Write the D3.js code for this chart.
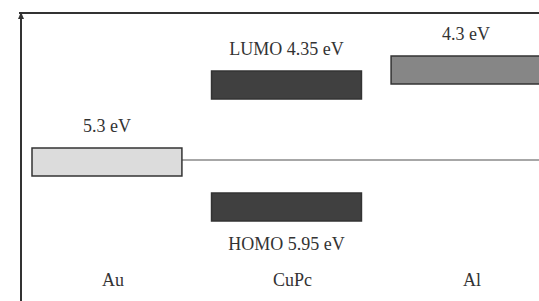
<!DOCTYPE html>
<html>
<head>
<meta charset="utf-8">
<script src="https://cdn.jsdelivr.net/npm/d3@7"></script>
<style>
body { margin: 0; background: #fff; }
text { font-family: "Liberation Serif", "Times New Roman", serif; fill: #333; }
</style>
</head>
<body>
<svg width="539" height="301"></svg>
<script>
// Energy level diagram Au / CuPc / Al

var materials = ["Au", "CuPc", "Al"];
// levels: material, energy (eV), label
var levels = [
	{mat: "Au", e: 5.3, label: "5.3 eV", kind: "metal-low"},
	{mat: "CuPc", e: 4.35, label: "LUMO 4.35 eV", kind: "lumo"},
	{mat: "CuPc", e: 5.95, label: "HOMO 5.95 eV", kind: "homo"},
	{mat: "Al", e: 4.3, label: "4.3 eV", kind: "metal-high"}
];
var fermi_level = 5.3;

function draw(){
	var svg = d3.select("svg");

	var x = d3.scaleBand()
		.domain(materials)
		.range([32, 541])
		.paddingInner(0.165);

	// schematic (non-linear) energy axis, as in the drawing
	var y = d3.scaleLinear()
		.domain([4.3, 4.35, 5.3, 5.95])
		.range([70, 85, 162, 207]);

	var bar_h = 28;
	var fill = {"metal-low": "#dcdcdc", "lumo": "#404040", "homo": "#404040", "metal-high": "#868686"};

	// frame: left energy axis with arrow, top line
	svg.append("line")
		.attr("x1", 19).attr("y1", 13).attr("x2", 539).attr("y2", 13)
		.attr("stroke", "#333").attr("stroke-width", 2);
	svg.append("line")
		.attr("x1", 21).attr("y1", 13).attr("x2", 21).attr("y2", 301)
		.attr("stroke", "#333").attr("stroke-width", 2);
	svg.append("path")
		.attr("d", "M18,19 L21,12 L24,19 Z")
		.attr("fill", "#333");

	// Fermi level line from Au
	svg.append("line")
		.attr("x1", x("Au") + x.bandwidth()).attr("x2", 539)
		.attr("y1", y(fermi_level) - 2).attr("y2", y(fermi_level) - 2)
		.attr("stroke", "#8a8a8a").attr("stroke-width", 1.5);

	svg.append("g").selectAll("rect")
		.data(levels)
		.enter().append("rect")
		.attr("x", d => x(d.mat))
		.attr("y", d => y(d.e) - bar_h / 2)
		.attr("width", x.bandwidth())
		.attr("height", bar_h)
		.attr("fill", d => fill[d.kind])
		.attr("stroke", "#333")
		.attr("stroke-width", 1.5);

	svg.append("g").selectAll("text")
		.data(levels)
		.enter().append("text")
		.attr("x", d => x(d.mat) + x.bandwidth() / 2)
		.attr("y", d => d.kind == "homo" ? y(d.e) + bar_h / 2 + 29 : y(d.e) - bar_h / 2 - 16)
		.attr("text-anchor", "middle")
		.attr("font-size", 18)
		.text(d => d.label);

	svg.append("g").selectAll("text")
		.data(materials)
		.enter().append("text")
		.attr("x", d => x(d) + x.bandwidth() / 2 + 6)
		.attr("y", 286)
		.attr("text-anchor", "middle")
		.attr("font-size", 18)
		.text(d => d);
}

draw();
</script>
</body>
</html>
